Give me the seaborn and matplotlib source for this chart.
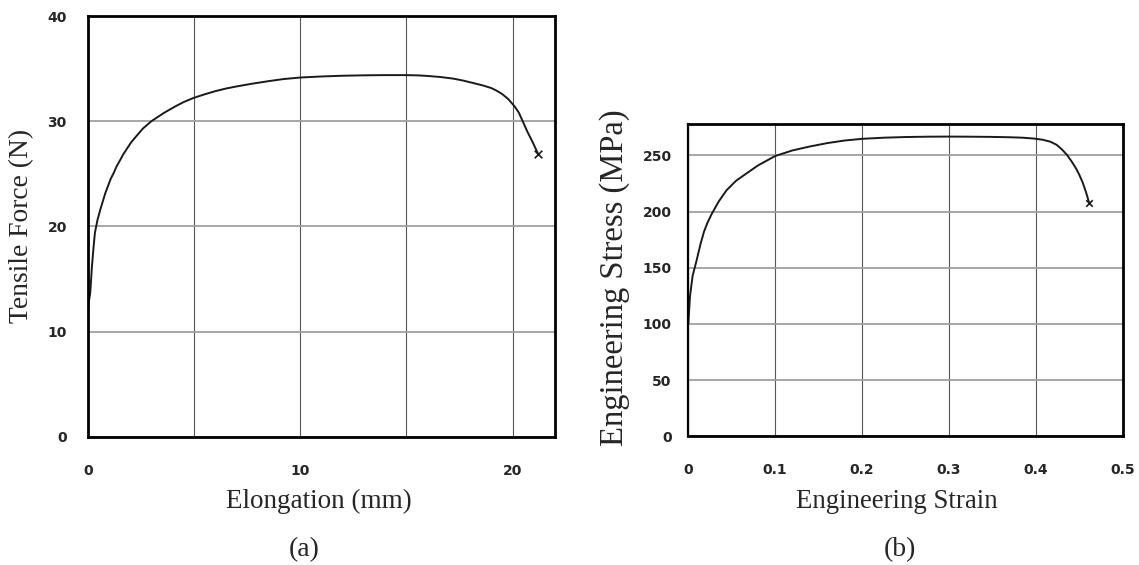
import matplotlib
matplotlib.use("Agg")
import matplotlib.pyplot as plt
import seaborn as sns
import numpy as np
import pandas as pd
from matplotlib.ticker import MultipleLocator, FixedLocator

# ---- data: (a) force vs elongation ----
elong_mm = [0.0, 0.06, 0.12, 0.2, 0.27, 0.34, 0.46, 0.58, 0.7, 0.82, 0.95, 1.08, 1.23, 1.36,
            1.5, 1.66, 1.82, 2.05, 2.3, 2.6, 3.0, 3.3, 3.6, 4.12, 4.5,
            4.97, 5.5, 6.0, 6.5, 7.0, 7.7, 8.5, 9.2, 10.0, 11.0, 12.0, 13.0, 14.0, 15.0, 15.6,
            16.0, 16.6, 17.2, 17.7, 18.2, 18.6, 19.0, 19.25, 19.5, 19.8, 20.1, 20.3, 20.5,
            20.7, 20.95, 21.2]
force_N = [12.0, 12.9, 13.7, 16.2, 17.9, 19.4, 20.6, 21.5, 22.3, 23.1, 23.8, 24.5, 25.1, 25.7,
           26.2, 26.8, 27.3, 28.0, 28.6, 29.3, 30.0, 30.4, 30.8, 31.4, 31.8,
           32.2, 32.55, 32.85, 33.1, 33.3, 33.55, 33.8, 34.0, 34.15, 34.25, 34.32, 34.36,
           34.38, 34.38, 34.35, 34.3, 34.2, 34.05, 33.85, 33.6, 33.4, 33.15, 32.9, 32.6,
           32.1, 31.4, 30.8, 29.9, 29.0, 28.0, 26.9]

# ---- data: (b) engineering stress vs strain ----
strain = [0.0, 0.002, 0.005, 0.0097, 0.014, 0.018, 0.022, 0.027, 0.035, 0.044, 0.055,
          0.067, 0.08, 0.1, 0.12, 0.14, 0.16, 0.18, 0.2, 0.225, 0.25, 0.275, 0.3, 0.325,
          0.35, 0.37, 0.385, 0.397, 0.408, 0.417, 0.424, 0.43, 0.436, 0.441, 0.446,
          0.45, 0.454, 0.458, 0.4614]
stress_MPa = [100, 125, 143, 157, 171, 182, 190, 198, 209, 219, 227.5,
              234, 241, 249.5, 254.5, 258, 261, 263.3, 264.8, 265.8, 266.4, 266.7, 266.8,
              266.7, 266.5, 266.2, 265.8, 265.1, 264, 262.2, 259.5, 255.5, 250.5, 245,
              239, 233, 226, 217, 208]

xt_a = [0, 5, 10, 15, 20]
xt_a_labels = ["0", "", "10", "", "20"]
yt_a = [0, 10, 20, 30, 40]
xt_b = [0, 0.1, 0.2, 0.3, 0.4, 0.5]
xt_b_labels = ["0", "0.1", "0.2", "0.3", "0.4", "0.5"]
yt_b = [0, 50, 100, 150, 200, 250]

sns.set_style("white")
plt.rcParams["font.family"] = ["Liberation Serif", "DejaVu Serif"]

fig = plt.figure(figsize=(11.39, 5.65), dpi=100)
fig.patch.set_facecolor("white")

ax1 = fig.add_axes([87.7/1139, 1-436.7/565, 467.3/1139, 420.7/565])
ax2 = fig.add_axes([688.3/1139, 1-436.3/565, 434.3/1139, 312.3/565])

df_a = pd.DataFrame({"x": elong_mm, "y": force_N})
df_b = pd.DataFrame({"x": strain, "y": stress_MPa})

tick_font = dict(family="DejaVu Sans", weight="bold", size=10)

def style(ax):
    for s in ax.spines.values():
        s.set_visible(True)
        s.set_color("black")
        s.set_linewidth(2.0)
    ax.set_axisbelow(True)

# ----- (a) -----
sns.lineplot(data=df_a, x="x", y="y", ax=ax1, color="#1a1a1a", lw=1.4,
             sort=False, estimator=None)
sns.scatterplot(data=df_a.tail(1), x="x", y="y", ax=ax1, marker="x", s=30,
                color="#1a1a1a", linewidth=1.2, zorder=5)
ax1.set_xlim(0, 22)
ax1.set_ylim(0, 40)
ax1.set_xticks(xt_a, labels=xt_a_labels)
ax1.set_yticks(yt_a)
ax1.yaxis.set_minor_locator(FixedLocator([5, 15, 25, 35]))
ax1.tick_params(axis="both", which="major", length=0)
ax1.tick_params(axis="x", which="major", pad=20)
ax1.tick_params(axis="y", which="major", pad=15)
ax1.tick_params(axis="y", which="minor", direction="in", length=4, width=1, color="#333")
for lab in ax1.get_xticklabels() + ax1.get_yticklabels():
    lab.set_fontproperties(matplotlib.font_manager.FontProperties(**tick_font))
ax1.xaxis.grid(True, color="#555555", lw=0.8)
ax1.yaxis.grid(True, color="#a0a0a0", lw=1.3)
style(ax1)
ax1.set_xlabel("Elongation (mm)", fontsize=19.5, va="center")
ax1.xaxis.set_label_coords(0.495, -0.155)
ax1.set_ylabel("Tensile Force (N)", fontsize=19.8, va="center")
ax1.yaxis.set_label_coords(-0.141, 0.5)

# ----- (b) -----
sns.lineplot(data=df_b, x="x", y="y", ax=ax2, color="#1a1a1a", lw=1.4,
             sort=False, estimator=None)
sns.scatterplot(data=df_b.tail(1), x="x", y="y", ax=ax2, marker="x", s=22,
                color="#1a1a1a", linewidth=1.2, zorder=5)
ax2.set_xlim(0, 0.5)
ax2.set_ylim(0, 278)
ax2.set_xticks(xt_b, labels=xt_b_labels)
ax2.set_yticks(yt_b)
ax2.xaxis.set_minor_locator(MultipleLocator(0.05))
ax2.yaxis.set_minor_locator(MultipleLocator(10))
ax2.tick_params(axis="both", which="major", length=0)
ax2.tick_params(axis="x", which="major", pad=19)
ax2.tick_params(axis="y", which="major", pad=12)
ax2.tick_params(axis="both", which="minor", direction="in", length=4, width=1, color="#333")
for lab in ax2.get_xticklabels() + ax2.get_yticklabels():
    lab.set_fontproperties(matplotlib.font_manager.FontProperties(**tick_font))
ax2.xaxis.grid(True, color="#555555", lw=0.8)
ax2.yaxis.grid(True, color="#a0a0a0", lw=1.3)
style(ax2)
ax2.spines["left"].set_linewidth(1.6)
ax2.set_xlabel("Engineering Strain", fontsize=19.3, va="center")
ax2.xaxis.set_label_coords(0.4805, -0.210)
ax2.set_ylabel("Engineering Stress (MPa)", fontsize=23.5, va="center")
ax2.yaxis.set_label_coords(-0.169, 0.507)

fig.text(304/1139, 1-550/565, "(a)", ha="center", va="center", fontsize=20)
fig.text(900/1139, 1-550/565, "(b)", ha="center", va="center", fontsize=20)

fig.savefig("out.png", dpi=100, facecolor="white")
